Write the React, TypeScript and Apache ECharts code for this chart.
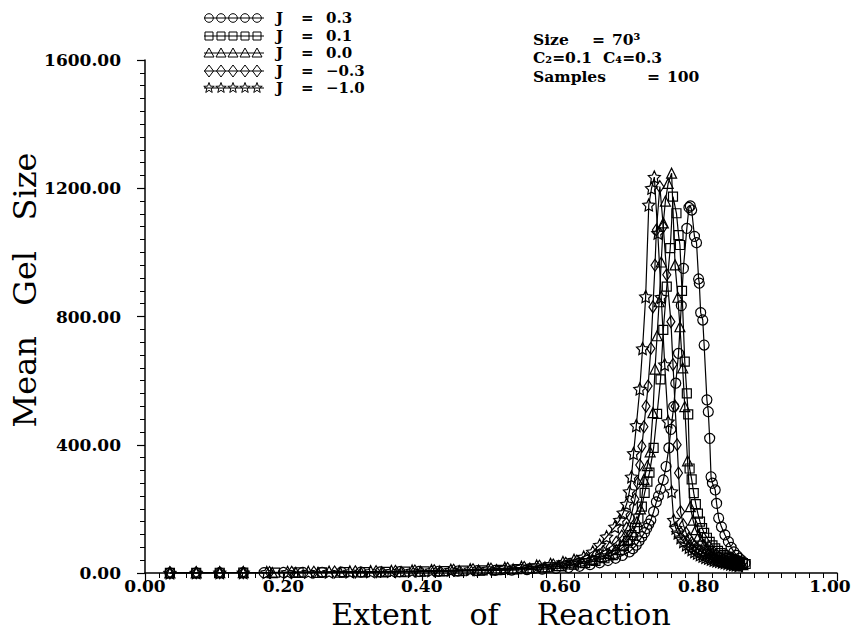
import React, { useEffect, useRef } from "react";
import * as echarts from "echarts";

// J = 0.3 (circles)
const j03Data: number[][] = [
  [0.036, 0.4], [0.074, 0.6], [0.108, 0.8], [0.142, 1.0], [0.172, 1.2], [0.2, 1.5], [0.228, 1.8], [0.256, 2.2],
  [0.284, 2.6], [0.312, 3.0], [0.34, 3.5], [0.368, 4.0], [0.396, 4.6], [0.424, 5.3], [0.452, 6.1], [0.48, 7.0],
  [0.506, 8.0], [0.53, 9.2], [0.552, 10.5], [0.574, 12.2], [0.594, 14.2], [0.612, 17], [0.628, 21], [0.643, 26],
  [0.657, 32], [0.669, 39], [0.68, 46], [0.69, 55], [0.7, 66], [0.705, 76], [0.71, 87], [0.714, 100], [0.718, 113],
  [0.722, 126], [0.725, 139], [0.728, 152], [0.731, 165], [0.735, 191], [0.739, 222], [0.742, 240], [0.745, 262],
  [0.749, 290], [0.753, 332], [0.757, 390], [0.76, 448], [0.764, 519], [0.767, 592], [0.771, 685], [0.775, 834],
  [0.778, 950], [0.783, 1075], [0.786, 1140], [0.788, 1145], [0.79, 1132], [0.794, 1050], [0.797, 1030],
  [0.8, 917], [0.801, 904], [0.803, 812], [0.806, 789], [0.808, 711], [0.812, 540], [0.814, 503], [0.816, 420],
  [0.818, 300], [0.82, 280], [0.824, 259], [0.826, 217], [0.829, 171], [0.833, 144], [0.838, 119], [0.843, 98],
  [0.847, 80], [0.851, 66], [0.855, 55], [0.859, 46], [0.863, 38], [0.867, 30]
];

// J = 0.1 (squares)
const j01Data: number[][] = [
  [0.036, 0.3], [0.074, 0.5], [0.108, 0.8], [0.142, 1.0], [0.188, 1.3], [0.222, 1.7], [0.256, 2.1], [0.288, 2.5],
  [0.318, 3.0], [0.348, 3.6], [0.376, 4.2], [0.404, 5.0], [0.432, 6.0], [0.46, 7.1], [0.488, 8.4], [0.514, 10],
  [0.538, 12], [0.56, 14.5], [0.582, 17.5], [0.602, 21], [0.62, 26], [0.636, 31], [0.651, 38], [0.664, 46],
  [0.676, 56], [0.686, 72], [0.692, 84], [0.698, 100], [0.703, 118], [0.708, 140], [0.713, 170], [0.718, 207],
  [0.722, 250], [0.726, 285], [0.729, 313], [0.735, 390], [0.74, 496], [0.745, 604], [0.749, 758], [0.754, 893],
  [0.759, 1013], [0.763, 1174], [0.768, 1122], [0.771, 1054], [0.773, 1023], [0.776, 880], [0.78, 659],
  [0.783, 560], [0.785, 495], [0.787, 326], [0.79, 292], [0.793, 249], [0.796, 215], [0.799, 185], [0.802, 160],
  [0.805, 140], [0.808, 125], [0.812, 110], [0.816, 97], [0.82, 86], [0.824, 77], [0.828, 69], [0.832, 62],
  [0.836, 56], [0.84, 51], [0.844, 47], [0.848, 43], [0.852, 40], [0.856, 37], [0.86, 34], [0.864, 31], [0.868, 28]
];

// J = 0.0 (triangles)
const j00Data: number[][] = [
  [0.036, 0.4], [0.074, 0.6], [0.108, 0.9], [0.142, 1.1], [0.184, 1.4], [0.218, 1.8], [0.25, 2.2], [0.282, 2.7],
  [0.312, 3.2], [0.342, 3.8], [0.37, 4.5], [0.398, 5.4], [0.426, 6.4], [0.454, 7.6], [0.482, 9], [0.508, 10.8],
  [0.532, 12.8], [0.556, 15.5], [0.578, 19], [0.598, 23], [0.616, 28], [0.632, 34], [0.647, 42], [0.66, 51],
  [0.671, 61], [0.681, 73], [0.69, 88], [0.698, 105], [0.705, 128], [0.711, 160], [0.716, 200], [0.721, 292],
  [0.726, 335], [0.73, 378], [0.734, 500], [0.737, 636], [0.74, 740], [0.743, 846], [0.746, 970], [0.749, 1092],
  [0.752, 1160], [0.756, 1215], [0.761, 1247], [0.766, 961], [0.77, 860], [0.773, 768], [0.777, 640], [0.78, 519],
  [0.784, 350], [0.788, 207], [0.792, 165], [0.796, 135], [0.8, 115], [0.804, 100], [0.808, 88], [0.812, 78],
  [0.816, 70], [0.82, 63], [0.824, 57], [0.828, 52], [0.832, 48], [0.836, 44], [0.84, 41], [0.844, 38],
  [0.848, 35], [0.852, 32], [0.856, 30], [0.86, 28], [0.864, 26]
];

// J = -0.3 (diamonds)
const jm03Data: number[][] = [
  [0.036, 0.4], [0.074, 0.7], [0.108, 0.9], [0.142, 1.2], [0.18, 1.5], [0.212, 1.9], [0.244, 2.4], [0.274, 2.9],
  [0.304, 3.5], [0.334, 4.2], [0.362, 5.0], [0.39, 6.0], [0.418, 7.1], [0.446, 8.4], [0.474, 10], [0.5, 12],
  [0.524, 14], [0.548, 17], [0.57, 21], [0.59, 25], [0.608, 30], [0.624, 37], [0.638, 45], [0.651, 55],
  [0.662, 67], [0.672, 80], [0.681, 96], [0.689, 115], [0.696, 140], [0.702, 172], [0.708, 230], [0.712, 280],
  [0.715, 337], [0.718, 395], [0.721, 456], [0.724, 520], [0.727, 583], [0.731, 700], [0.734, 830], [0.737, 960],
  [0.739, 1070], [0.744, 1205], [0.749, 1080], [0.754, 930], [0.76, 784], [0.763, 650], [0.766, 520],
  [0.769, 400], [0.771, 312], [0.774, 191], [0.778, 150], [0.782, 125], [0.786, 108], [0.79, 95], [0.794, 85],
  [0.798, 77], [0.802, 70], [0.806, 64], [0.81, 59], [0.814, 54], [0.818, 50], [0.822, 46], [0.826, 43],
  [0.83, 40], [0.834, 38], [0.838, 35], [0.842, 33], [0.846, 31], [0.85, 29], [0.854, 27], [0.858, 25], [0.862, 23]
];

// J = -1.0 (stars)
const jm10Data: number[][] = [
  [0.036, 0.5], [0.074, 0.8], [0.108, 1.0], [0.142, 1.3], [0.176, 1.6], [0.206, 2.0], [0.236, 2.5], [0.266, 3.0],
  [0.296, 3.6], [0.326, 4.3], [0.356, 5.2], [0.386, 6.2], [0.414, 7.4], [0.442, 8.8], [0.47, 10.5], [0.496, 12.5],
  [0.52, 15], [0.544, 18], [0.566, 22], [0.586, 27], [0.604, 33], [0.62, 40], [0.634, 50], [0.647, 66],
  [0.657, 87], [0.667, 113], [0.679, 144], [0.686, 165], [0.691, 188], [0.696, 215], [0.7, 254], [0.703, 300],
  [0.706, 373], [0.71, 460], [0.715, 574], [0.719, 700], [0.7235, 862], [0.728, 1148], [0.732, 1200],
  [0.736, 1235], [0.741, 1060], [0.746, 860], [0.751, 650], [0.756, 472], [0.761, 254], [0.764, 165],
  [0.767, 140], [0.77, 125], [0.774, 110], [0.778, 98], [0.782, 88], [0.786, 80], [0.79, 73], [0.794, 67],
  [0.798, 62], [0.802, 57], [0.806, 53], [0.81, 49], [0.814, 46], [0.818, 43], [0.822, 40], [0.826, 38],
  [0.83, 36], [0.834, 34], [0.838, 32], [0.842, 30], [0.846, 28], [0.85, 26], [0.854, 25], [0.858, 23]
];

const legendValues = ["0.3", "0.1", "0.0", "\u22120.3", "\u22121.0"];
// annotation rows: [text, x]
const annotationRows: [string, number][][] = [
  [["Size", 533], ["=", 592], ["70\u00B3", 612]],
  [["C\u2082=0.1", 533], ["C\u2084=0.3", 603]],
  [["Samples", 533], ["=", 647], ["100", 667]],
];
const xTitle = "Extent    of    Reaction";
const yTitle = "Mean   Gel   Size";

const STAR_PATH =
  "path://M0,-10L2.94,-4.05L9.51,-3.09L4.76,1.55L5.88,8.09L0,5L-5.88,8.09L-4.76,1.55L-9.51,-3.09L-2.94,-4.05Z";

const FONT = '"DejaVu Serif", serif';

function legendSymbol(kind: number, cx: number, cy: number): any {
  const style = { fill: "none", stroke: "#000", lineWidth: 1 };
  if (kind === 0) return { type: "circle", shape: { cx, cy, r: 4.3 }, style };
  if (kind === 1) return { type: "rect", shape: { x: cx - 4, y: cy - 4, width: 8, height: 8 }, style };
  if (kind === 2)
    return { type: "polygon", shape: { points: [[cx, cy - 5], [cx + 5, cy + 4], [cx - 5, cy + 4]] }, style };
  if (kind === 3)
    return { type: "polygon", shape: { points: [[cx, cy - 6], [cx + 4.5, cy], [cx, cy + 6], [cx - 4.5, cy]] }, style };
  const pts: number[][] = [];
  for (let k = 0; k < 10; k++) {
    const r = k % 2 === 0 ? 5.5 : 2.3;
    const a = -Math.PI / 2 + (k * Math.PI) / 5;
    pts.push([cx + r * Math.cos(a), cy + r * Math.sin(a)]);
  }
  return { type: "polygon", shape: { points: pts }, style };
}

export default function App() {
  const ref = useRef<HTMLDivElement>(null);
  useEffect(() => {
    document.body.style.margin = "0";
    if (!ref.current) return;
    const chart = echarts.init(ref.current, null, { renderer: "svg" });

    const symbols = ["circle", "rect", "triangle", "diamond", STAR_PATH];
    const datas = [j03Data, j01Data, j00Data, jm03Data, jm10Data];
    const sizes = [10, 9, 10, [8, 12], 12];

    const series = datas.map((d, i) => ({
      type: "line",
      data: d,
      symbol: symbols[i],
      symbolSize: sizes[i],
      showAllSymbol: true,
      lineStyle: { color: "#000", width: 1.2 },
      itemStyle: { color: "rgba(255,255,255,0)", borderColor: "#000", borderWidth: 1.2 },
      z: 2 + i,
    }));

    const rowsY = [18, 36, 53, 71, 88];
    const tf = `bold 15px ${FONT}`;
    const graphics: any[] = [];
    rowsY.forEach((y, i) => {
      graphics.push({ type: "line", shape: { x1: 204, y1: y, x2: 264, y2: y }, style: { stroke: "#000", lineWidth: 1 } });
      for (let k = 0; k < 5; k++) graphics.push(legendSymbol(i, 209 + 12 * k, y));
      graphics.push({ type: "text", style: { text: "J", x: 276, y, font: tf, fill: "#000", verticalAlign: "middle" } });
      graphics.push({ type: "text", style: { text: "=", x: 301, y, font: tf, fill: "#000", verticalAlign: "middle" } });
      graphics.push({ type: "text", style: { text: legendValues[i], x: 326, y, font: tf, fill: "#000", verticalAlign: "middle" } });
    });
    [39, 57.5, 76].forEach((y, i) => {
      annotationRows[i].forEach(([t, x]) => {
        graphics.push({ type: "text", style: { text: t, x, y, font: `bold 15.5px ${FONT}`, fill: "#000", verticalAlign: "middle" } });
      });
    });
    // axis titles
    graphics.push({
      type: "text",
      x: 501,
      y: 614,
      style: { text: xTitle, font: `30px ${FONT}`, fill: "#000", align: "center", verticalAlign: "middle" },
    });
    graphics.push({
      type: "text",
      x: 25,
      y: 290,
      rotation: Math.PI / 2,
      style: { text: yTitle, font: `32px ${FONT}`, fill: "#000", align: "center", verticalAlign: "middle" },
    });

    const labelStyle = { fontFamily: FONT, fontWeight: "bold", fontSize: 17, color: "#000" };

    chart.setOption({
      animation: false,
      backgroundColor: "#fff",
      grid: { left: 145, right: 16, top: 60, bottom: 60, outerBoundsMode: "none" },
      xAxis: {
        type: "value",
        min: 0,
        max: 1,
        interval: 0.2,
        axisLine: { lineStyle: { color: "#000", width: 1.5 } },
        axisTick: { length: 8, lineStyle: { color: "#000", width: 1.2 } },
        minorTick: { show: true, splitNumber: 10, length: 5, lineStyle: { color: "#000", width: 1 } },
        splitLine: { show: false },
        axisLabel: {
          ...labelStyle,
          margin: 4,
          formatter: (v: number) => (v >= 1 ? "{r|" + v.toFixed(2) + "}" : v.toFixed(2)),
          rich: { r: { ...labelStyle, padding: [0, 14, 0, 0] } },
        },
      },
      yAxis: {
        type: "value",
        min: 0,
        max: 1600,
        interval: 400,
        axisLine: { show: true, lineStyle: { color: "#000", width: 1.5 } },
        axisTick: { show: true, length: 8, lineStyle: { color: "#000", width: 1.2 } },
        minorTick: { show: true, splitNumber: 10, length: 5, lineStyle: { color: "#000", width: 1 } },
        splitLine: { show: false },
        axisLabel: { ...labelStyle, margin: 24, formatter: (v: number) => v.toFixed(2) },
      },
      graphic: graphics,
      series,
    });
    return () => chart.dispose();
  }, []);
  return <div ref={ref} style={{ width: 853, height: 633 }} />;
}
